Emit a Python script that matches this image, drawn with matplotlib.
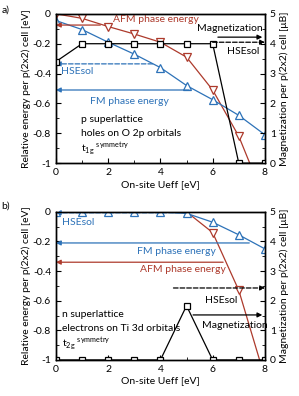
import matplotlib
matplotlib.use("Agg")
import matplotlib.pyplot as plt
from matplotlib.ticker import MultipleLocator

plt.rcParams['font.family'] = ['Lato', 'DejaVu Sans']
plt.rcParams['font.size'] = 7.5
plt.rcParams['mathtext.fontset'] = 'custom'
plt.rcParams['mathtext.rm'] = 'Lato'

RED = '#ad3a2c'
BLUE = '#2d72b8'

u = [0, 1, 2, 3, 4, 5, 6, 7, 8]

# panel a) p superlattice
a_afm = [0.0, -0.03, -0.085, -0.135, -0.19, -0.29, -0.51, -0.82, -1.25]
a_fm = [-0.045, -0.105, -0.19, -0.27, -0.36, -0.48, -0.575, -0.68, -0.81]
a_mag = [3.4, 4.0, 4.0, 4.0, 4.0, 4.0, 4.0, 0.0, 0.0]

# panel b) n superlattice
b_afm = [0.0, 0.0, 0.0, 0.0, 0.0, 0.0, -0.14, -0.53, -1.12]
b_fm = [0.0, 0.0, 0.0, 0.0, 0.0, -0.01, -0.07, -0.155, -0.25]
b_mag = [0.0, 0.0, 0.0, 0.0, 0.0, 1.83, 0.0, 0.0, 0.0]


def arrow(ax, x0, x1, y, color, ls='-', open_head=False, lw=0.9):
    props = dict(arrowstyle='-|>', color=color, lw=lw, linestyle=ls,
                 shrinkA=0, shrinkB=0, mutation_scale=7)
    if open_head:
        props['facecolor'] = 'white'
    ax.annotate('', xy=(x1, y), xytext=(x0, y), arrowprops=props,
                annotation_clip=False)


def setup(ax, ax2):
    ax.set_xlim(0, 8)
    ax.set_ylim(-1, 0)
    ax2.set_ylim(0, 5)
    ax.xaxis.set_major_locator(MultipleLocator(2))
    ax.xaxis.set_minor_locator(MultipleLocator(1))
    ax.yaxis.set_minor_locator(MultipleLocator(0.1))
    ax2.yaxis.set_major_locator(MultipleLocator(1))
    ax2.yaxis.set_minor_locator(MultipleLocator(0.5))
    ax.set_yticks([0, -0.2, -0.4, -0.6, -0.8, -1])
    ax.set_yticklabels(['0', '-0.2', '-0.4', '-0.6', '-0.8', '-1'])
    ax.tick_params(which='both', direction='in', top=False, right=False)
    ax.tick_params(which='major', length=3.5)
    ax.tick_params(which='minor', length=2)
    ax2.tick_params(which='both', direction='in')
    ax2.tick_params(which='major', length=3.5)
    ax2.tick_params(which='minor', length=2)
    for a in (ax, ax2):
        for s in a.spines.values():
            s.set_linewidth(1.0)
    ax.set_xlabel('On-site Ueff [eV]', labelpad=2)
    ax.set_ylabel('Relative energy per p(2x2) cell [eV]', labelpad=1)
    ax2.set_ylabel('Magnetization per p(2x2) cell [\u03bcB]', labelpad=3)


fig = plt.figure(figsize=(2.99, 3.96), dpi=100)
axa = fig.add_axes([0.187, 0.588, 0.699, 0.377])
axa2 = axa.twinx()
axb = fig.add_axes([0.187, 0.091, 0.699, 0.374])
axb2 = axb.twinx()

mk = dict(markerfacecolor='white', markeredgewidth=0.9, lw=0.9, clip_on=True)

# panel a
axa.plot(u, a_afm, color=RED, marker='v', ms=6, **mk)
axa.plot(u, a_fm, color=BLUE, marker='^', ms=6, **mk)
axa2.plot(u, a_mag, color='black', marker='s', ms=4.5, **mk)
arrow(axa, 1.7, 0.0, -0.075, RED)
arrow(axa, 3.7, 0.0, -0.335, BLUE, ls='--', open_head=True)
arrow(axa, 5.1, 0.0, -0.51, BLUE)
arrow(axa2, 6.0, 8.0, 4.05, 'black', ls='--', open_head=True)
arrow(axa2, 6.2, 7.9, 4.22, 'black')
axa.text(2.2, -0.035, 'AFM phase energy', color=RED, va='center')
axa.text(0.2, -0.385, 'HSEsol', color=BLUE, va='center')
axa.text(1.3, -0.585, 'FM phase energy', color=BLUE, va='center')
axa2.text(5.4, 4.5, 'Magnetization', color='black', va='center')
axa2.text(6.55, 3.75, 'HSEsol', color='black', va='center')
axa.text(0.95, -0.71, 'p superlattice', va='center')
axa.text(0.95, -0.80, 'holes on O 2p orbitals', va='center')
axa.text(0.95, -0.90, r't$_{\mathrm{1g}}$ $^{\mathrm{symmetry}}$', va='center')
fig.text(0.005, 0.985, 'a)', va='top')

# panel b
axb.plot(u, b_afm, color=RED, marker='v', ms=6, **mk)
axb.plot(u, b_fm, color=BLUE, marker='^', ms=6, **mk)
axb2.plot(u, b_mag, color='black', marker='s', ms=4.5, **mk)
arrow(axb, 5.0, 0.0, -0.006, BLUE, ls='--', open_head=True)
arrow(axb, 7.4, 0.0, -0.21, BLUE)
arrow(axb, 6.4, 0.0, -0.34, RED)
arrow(axb2, 4.5, 8.0, 2.43, 'black', ls='--', open_head=True)
arrow(axb2, 5.25, 7.9, 1.52, 'black')
axb.text(0.25, -0.07, 'HSEsol', color=BLUE, va='center')
axb.text(3.1, -0.265, 'FM phase energy', color=BLUE, va='center')
axb.text(3.2, -0.39, 'AFM phase energy', color=RED, va='center')
axb2.text(5.7, 2.0, 'HSEsol', color='black', va='center')
axb2.text(5.6, 1.17, 'Magnetization', color='black', va='center')
axb.text(0.25, -0.69, 'n superlattice', va='center')
axb.text(0.25, -0.79, 'electrons on Ti 3d orbitals', va='center')
axb.text(0.25, -0.89, r't$_{\mathrm{2g}}$ $^{\mathrm{symmetry}}$', va='center')
fig.text(0.005, 0.49, 'b)', va='top')

setup(axa, axa2)
setup(axb, axb2)

fig.savefig('out.png', dpi=100)
